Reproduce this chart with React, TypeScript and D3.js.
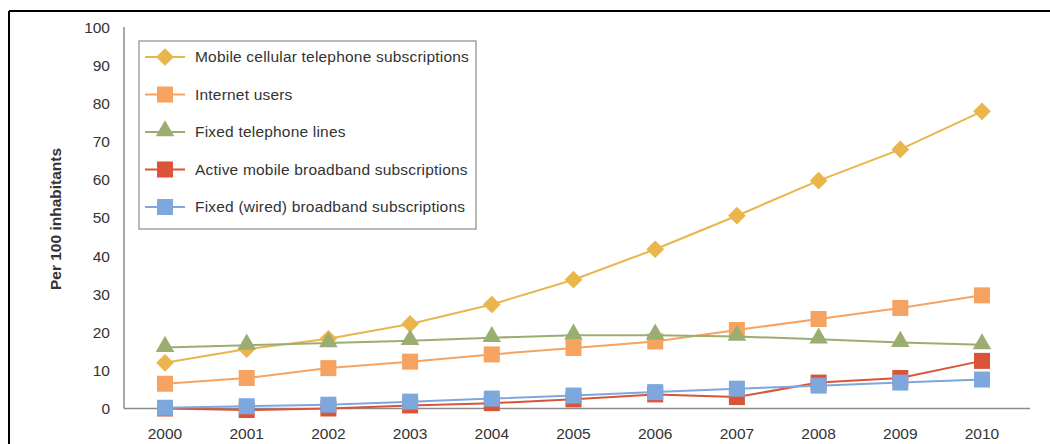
import React from "react";
import * as d3 from "d3";

const years = ["2000","2001","2002","2003","2004","2005","2006","2007","2008","2009","2010"];
const mobileCellular = [12.0, 15.6, 18.3, 22.2, 27.3, 33.8, 41.8, 50.6, 59.8, 68.0, 78.0];
const internetUsers = [6.5, 8.0, 10.6, 12.3, 14.2, 15.9, 17.6, 20.6, 23.5, 26.4, 29.7];
const fixedTelephone = [16.0, 16.6, 17.2, 17.8, 18.6, 19.2, 19.2, 18.9, 18.2, 17.3, 16.7];
const activeMobileBroadband = [0.0, -0.4, 0.0, 0.8, 1.4, 2.4, 3.7, 3.0, 6.8, 8.0, 12.5];
const fixedBroadband = [0.2, 0.6, 1.0, 1.8, 2.6, 3.4, 4.3, 5.2, 6.0, 6.8, 7.6];
const yTicks = [0, 10, 20, 30, 40, 50, 60, 70, 80, 90, 100];

type Series = { name: string; values: number[]; color: string; marker: "diamond" | "square" | "triangle" };
const series: Series[] = [
  { name: "Mobile cellular telephone subscriptions", values: mobileCellular, color: "#EAB54B", marker: "diamond" },
  { name: "Internet users", values: internetUsers, color: "#F6A261", marker: "square" },
  { name: "Fixed telephone lines", values: fixedTelephone, color: "#9BAE72", marker: "triangle" },
  { name: "Active mobile broadband subscriptions", values: activeMobileBroadband, color: "#DA5437", marker: "square" },
  { name: "Fixed (wired) broadband subscriptions", values: fixedBroadband, color: "#7EA8DD", marker: "square" },
];

const W = 1050, H = 444;
const font = "'Liberation Sans', Arial, Helvetica, sans-serif";

function Marker({ type, x, y, color }: { type: string; x: number; y: number; color: string }) {
  if (type === "diamond") {
    const p = d3.symbol(d3.symbolDiamond2, 200)();
    return <path d={p as string} transform={`translate(${x},${y})`} fill={color} />;
  }
  if (type === "triangle") {
    const p = d3.symbol(d3.symbolTriangle, 150)();
    return <path d={p as string} transform={`translate(${x},${y - 1})`} fill={color} />;
  }
  const s = 16;
  return <rect x={x - s / 2} y={y - s / 2} width={s} height={s} fill={color} />;
}

export default function App() {
  const x = d3.scalePoint<string>().domain(years).range([165, 982]);
  const y = d3.scaleLinear().domain([0, 100]).range([408.5, 27.5]);
  const line = d3.line<number>().x((_, i) => x(years[i]) as number).y((d) => y(d));
  const axisX0 = 124, axisX1 = 1030;

  const legendX = 139, legendY = 41, legendW = 337, legendH = 188;
  const legendRow = (i: number) => 57 + i * 37.5;

  return (
    <svg width={W} height={H} style={{ position: "absolute", left: 0, top: 0, background: "#fff" }}>
      <rect x={0} y={0} width={W} height={H} fill="#fff" />
      <line x1={9} y1={11} x2={W} y2={11} stroke="#000" strokeWidth={2} />
      <line x1={9} y1={11} x2={9} y2={H} stroke="#000" strokeWidth={2} />

      <line x1={axisX0} y1={27} x2={axisX0} y2={y(0)} stroke="#8c8c8c" strokeWidth={1.5} />
      <line x1={axisX0} y1={y(0)} x2={axisX1} y2={y(0)} stroke="#8c8c8c" strokeWidth={1.5} />

      {yTicks.map((t) => (
        <text key={t} x={110} y={y(t)} dy="0.35em" textAnchor="end" fontFamily={font} fontSize={15.5} fill="#333">
          {t}
        </text>
      ))}
      {years.map((yr) => (
        <text key={yr} x={x(yr)} y={434} dy="0.35em" textAnchor="middle" fontFamily={font} fontSize={15.5} fill="#333">
          {yr}
        </text>
      ))}
      <text
        transform={`translate(56,219) rotate(-90)`}
        textAnchor="middle"
        dy="0.35em"
        fontFamily={font}
        fontSize={15.5}
        fontWeight="bold"
        fill="#333"
      >
        Per 100 inhabitants
      </text>

      {series.map((s) => (
        <g key={s.name}>
          <path d={line(s.values) as string} fill="none" stroke={s.color} strokeWidth={2} />
          {s.values.map((v, i) => (
            <Marker key={i} type={s.marker} x={x(years[i]) as number} y={y(v)} color={s.color} />
          ))}
        </g>
      ))}

      <rect x={legendX} y={legendY} width={legendW} height={legendH} fill="#fff" stroke="#8a8a8a" strokeWidth={1.2} />
      {series.map((s, i) => (
        <g key={s.name}>
          <line x1={145} x2={185} y1={legendRow(i)} y2={legendRow(i)} stroke={s.color} strokeWidth={2} />
          <Marker type={s.marker} x={165} y={legendRow(i)} color={s.color} />
          <text x={195} y={legendRow(i)} dy="0.35em" fontFamily={font} fontSize={15.5} letterSpacing={0.2} fill="#333">
            {s.name}
          </text>
        </g>
      ))}
    </svg>
  );
}
